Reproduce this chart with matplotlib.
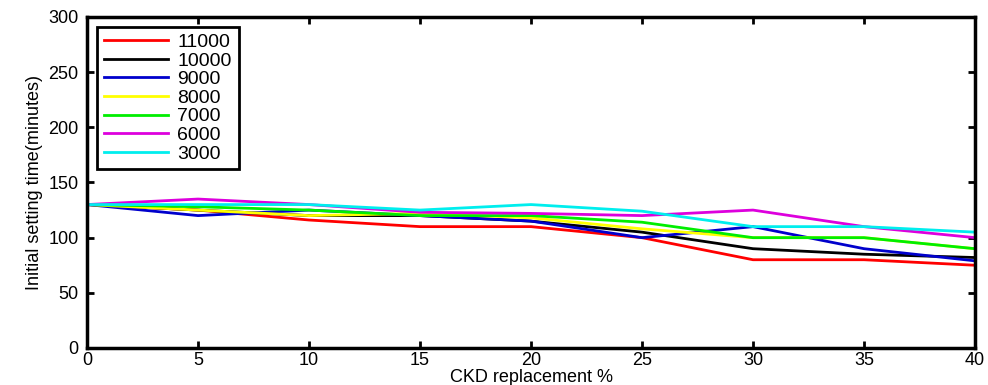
import matplotlib
matplotlib.use('Agg')
import matplotlib.pyplot as plt

plt.rcParams['font.family'] = ['Liberation Sans', 'DejaVu Sans']

# datos
ckd = [0, 5, 10, 15, 20, 25, 30, 35, 40]
labels = ['11000', '10000', '9000', '8000', '7000', '6000', '3000']
colors = ['#ff0000', '#000000', '#0000cc', '#ffff00', '#00ee00', '#dd00dd', '#00eeee']
s11000 = [130, 125, 116, 110, 110, 100, 80, 80, 75]
s10000 = [130, 125, 120, 120, 115, 105, 90, 85, 82]
s9000 = [130, 120, 125, 120, 115, 100, 110, 90, 79]
s8000 = [130, 125, 120, 122, 118, 108, 100, 100, 90]
s7000 = [130, 128, 125, 120, 120, 114, 100, 100, 90]
s6000 = [130, 135, 130, 123, 122, 120, 125, 110, 100]
s3000 = [130, 130, 130, 125, 130, 124, 110, 110, 105]
series = [s11000, s10000, s9000, s8000, s7000, s6000, s3000]

fig = plt.figure(figsize=(9.88, 3.85), dpi=100)
ax = fig.add_axes([87 / 988, 1 - 348 / 385, 888 / 988, 331 / 385])

for vals, lab, col in zip(series, labels, colors):
    ax.plot(ckd, vals, color=col, linewidth=2, label=lab)

ax.set_xlim(0, 40)
ax.set_ylim(0, 300)
ax.set_xticks(range(0, 41, 5))
ax.set_yticks(range(0, 301, 50))
ax.tick_params(direction='in', top=True, right=True, length=5, width=2,
               labelsize=13)
ax.tick_params(axis='x', pad=3)
ax.tick_params(axis='y', pad=6)
for sp in ax.spines.values():
    sp.set_linewidth(2.5)

ax.set_xlabel('CKD replacement %', fontsize=13, labelpad=0)
ax.set_ylabel('Initial setting time(minutes)', fontsize=13, labelpad=4)

leg = ax.legend(loc='upper left', fontsize=14, handlelength=3.3,
                labelspacing=0.05, borderpad=0.35, handletextpad=0.5,
                fancybox=False, framealpha=1, borderaxespad=0.5)
leg.get_frame().set_edgecolor('black')
leg.get_frame().set_linewidth(2)

fig.savefig('out.png', dpi=100)
